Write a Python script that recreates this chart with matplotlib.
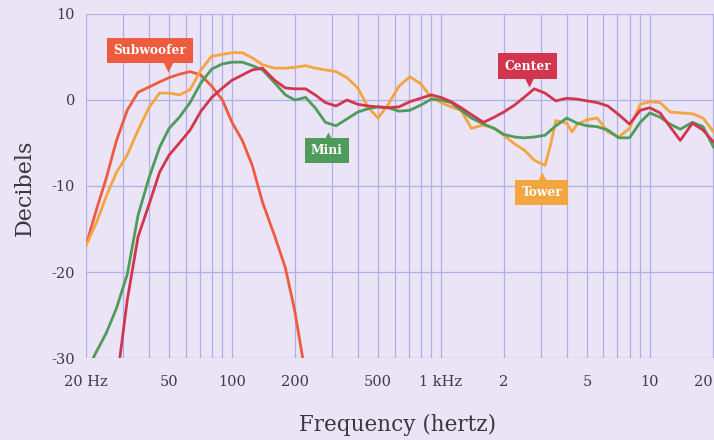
import numpy as np
import matplotlib
matplotlib.use("Agg")
import matplotlib.pyplot as plt
from matplotlib.ticker import FixedLocator, NullFormatter

# ---- data (frequency in Hz, level in dB) ----
sub_f = [20, 22.4, 25, 28, 31.5, 35.5, 40, 45, 50, 56, 63, 71, 80, 90, 100, 112, 125,
         140, 160, 180, 200, 218, 226]
sub_db = [-16.9, -12.8, -9.1, -4.7, -1.2, 0.9, 1.5, 2.1, 2.6, 3.0, 3.3, 2.9, 1.6, 0.0,
          -2.6, -4.7, -7.6, -11.9, -15.8, -19.5, -24.6, -30.0, -33.0]

tower_f = [20, 22.4, 25, 28, 31.5, 35.5, 40, 45, 50, 56, 63, 71, 80, 90, 100, 112, 125,
           140, 160, 180, 200, 225, 250, 280, 315, 355, 400, 450, 500, 560, 630, 710, 800,
           900, 1000, 1120, 1250, 1400, 1600, 1800, 2000, 2250, 2500, 2800, 3150, 3350,
           3550, 4000, 4250, 4500, 5000, 5600, 6300, 7100, 8000, 9000, 10000, 11200,
           12500, 14000, 16000, 18000, 20200]
tower_db = [-16.9, -14.3, -11.2, -8.4, -6.4, -3.5, -0.9, 0.8, 0.8, 0.6, 1.2, 3.5, 5.1,
            5.3, 5.5, 5.5, 4.9, 4.1, 3.7, 3.7, 3.8, 4.0, 3.7, 3.5, 3.3, 2.6, 1.4, -0.9,
            -2.1, -0.5, 1.6, 2.7, 1.9, 0.3, -0.3, -0.8, -1.2, -3.3, -2.9, -3.3, -4.1,
            -5.1, -5.8, -7.0, -7.6, -5.2, -2.4, -2.7, -3.7, -2.8, -2.3, -2.1, -3.7,
            -4.3, -3.3, -0.5, -0.2, -0.3, -1.4, -1.5, -1.6, -2.1, -3.7]

mini_f = [20, 22.4, 25, 28, 31.5, 35.5, 40, 45, 50, 56, 63, 71, 80, 90, 100, 112, 125,
          140, 160, 180, 200, 225, 250, 280, 315, 355, 400, 450, 500, 560, 630, 710, 800,
          900, 1000, 1120, 1250, 1400, 1600, 1800, 2000, 2250, 2500, 2800, 3150, 3550,
          4000, 4500, 5000, 5600, 6300, 7100, 8000, 9000, 10000, 11200, 12500, 14000,
          16000, 18000, 20200]
mini_db = [-31.6, -29.3, -27.1, -24.2, -20.3, -13.4, -9.1, -5.5, -3.3, -2.0, -0.3, 2.0,
           3.6, 4.2, 4.4, 4.4, 4.0, 3.5, 2.0, 0.6, 0.0, 0.3, -0.9, -2.6, -3.0, -2.2,
           -1.4, -1.0, -0.8, -0.9, -1.3, -1.2, -0.6, 0.1, 0.0, -0.3, -1.2, -2.1, -2.8,
           -3.3, -4.0, -4.3, -4.4, -4.3, -4.1, -3.0, -2.1, -2.7, -3.0, -3.1, -3.5, -4.4,
           -4.4, -2.6, -1.5, -2.0, -2.8, -3.4, -2.6, -3.1, -5.5]

center_f = [28, 31.5, 35.5, 40, 45, 50, 56, 63, 71, 80, 90, 100, 112, 125, 140, 160, 180,
            200, 225, 250, 280, 315, 355, 400, 450, 500, 560, 630, 710, 800, 900, 1000,
            1120, 1250, 1400, 1600, 1800, 2000, 2250, 2500, 2800, 3150, 3550, 4000, 4500,
            5000, 5600, 6300, 7100, 8000, 9000, 10000, 11200, 12500, 14000, 16000, 18000,
            20200]
center_db = [-33.0, -23.3, -15.9, -12.2, -8.4, -6.4, -5.0, -3.5, -1.3, 0.3, 1.4, 2.3, 2.9,
             3.5, 3.7, 2.3, 1.4, 1.3, 1.3, 0.6, -0.3, -0.7, 0.0, -0.5, -0.7, -0.8, -0.9,
             -0.8, -0.2, 0.2, 0.6, 0.3, -0.2, -0.9, -1.7, -2.6, -2.0, -1.4, -0.6, 0.3,
             1.3, 0.8, -0.1, 0.2, 0.1, -0.1, -0.3, -0.7, -1.7, -2.8, -1.2, -0.9, -1.5,
             -3.1, -4.7, -2.7, -3.5, -4.9]

x_ticks = [20, 50, 100, 200, 500, 1000, 2000, 5000, 10000, 20000]
x_tick_labels = ["20 Hz", "50", "100", "200", "500", "1 kHz", "2", "5", "10", "20"]
y_ticks = [10, 0, -10, -20, -30]

labels = ["Subwoofer", "Tower", "Mini", "Center"]
colors = {"Subwoofer": "#ee5b3e", "Tower": "#f3a540", "Mini": "#4f9b5b", "Center": "#d2364f"}

# ---- figure ----
bg = "#ebe4f6"
grid_c = "#aeb0ea"
fig = plt.figure(figsize=(7.14, 4.40), dpi=100, facecolor=bg)
ax = fig.add_axes([86 / 714, 1 - 358 / 440, 1 - 86 / 714, (358 - 14) / 440])
ax.set_facecolor(bg)
ax.set_xscale("log")
ax.set_xlim(20, 20300)
ax.set_ylim(-30, 10)

minor = [m * 10 ** e for e in range(1, 5) for m in range(1, 10) if 20 <= m * 10 ** e <= 20000]
ax.xaxis.set_minor_locator(FixedLocator(minor))
ax.xaxis.set_minor_formatter(NullFormatter())
ax.set_xticks(x_ticks)
ax.set_xticklabels(x_tick_labels)
ax.set_yticks(y_ticks)
ax.set_yticklabels([str(v) for v in y_ticks])
ax.grid(True, which="both", axis="x", color=grid_c, lw=0.9)
ax.grid(True, which="major", axis="y", color=grid_c, lw=0.9)
for s in ["right", "bottom", "top", "left"]:
    ax.spines[s].set_visible(False)
ax.tick_params(which="both", length=0)
ax.tick_params(axis="x", pad=12)
ax.tick_params(axis="y", pad=8)
for t in ax.get_xticklabels() + ax.get_yticklabels():
    t.set_fontfamily("DejaVu Serif")
    t.set_fontsize(10.5)
    t.set_color("#3f3b46")
xl = ax.get_xticklabels()
xl[-1].set_horizontalalignment("right")

series = {
    "Subwoofer": (sub_f, sub_db),
    "Tower": (tower_f, tower_db),
    "Mini": (mini_f, mini_db),
    "Center": (center_f, center_db),
}
for name in labels:
    f, d = series[name]
    ax.plot(f, d, color=colors[name], lw=2.0, solid_capstyle="round", zorder=3)

# callout labels: (name, box center freq, box center dB, pointer freq, pointer dB, marker)
callouts = [
    ("Subwoofer", 40.5, 5.75, 49.4, 3.85, "v"),
    ("Mini", 284, -5.85, 288, -4.25, "^"),
    ("Center", 2606, 3.95, 2640, 2.05, "v"),
    ("Tower", 3040, -10.8, 3060, -8.95, "^"),
]
for name, bx, by, px, py, mk in callouts:
    ax.text(bx, by, name, ha="center", va="center", color="white",
            fontfamily="DejaVu Serif", fontweight="bold", fontsize=8.8, zorder=6,
            bbox=dict(boxstyle="square,pad=0.5", fc=colors[name], ec="none"))
    ax.plot([px], [py], marker=mk, ms=7, color=colors[name], mec="none", zorder=6)

fig.text(25 / 714, 1 - 188 / 440, "Decibels", rotation=90, ha="center", va="center",
         fontfamily="DejaVu Serif", fontsize=16, color="#3a3640")
fig.text(398 / 714, 1 - 425 / 440, "Frequency (hertz)", ha="center", va="center",
         fontfamily="DejaVu Serif", fontsize=15.5, color="#3a3640")

fig.savefig("out.png", dpi=100, facecolor=bg)
